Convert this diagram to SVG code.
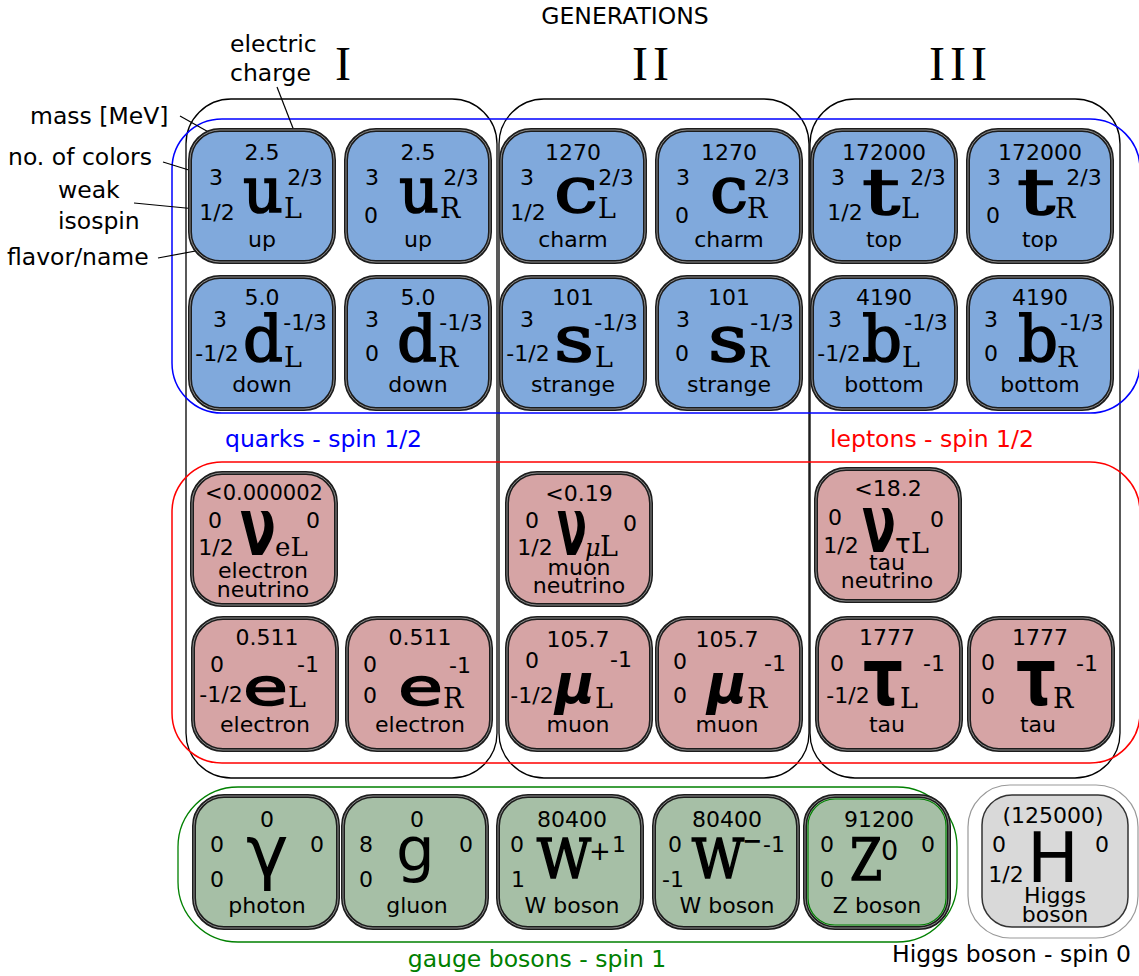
<svg xmlns="http://www.w3.org/2000/svg" width="1139" height="976" viewBox="0 0 1139 976">
<style>
text{font-family:"DejaVu Sans",sans-serif;fill:#000}
.m{text-anchor:middle}
.n{font-size:22px}
.a{font-size:23.5px}
.rom{font-family:"Liberation Serif",serif;font-size:48px;letter-spacing:5px}
.bq{font-family:"DejaVu Serif",serif;font-size:64px;stroke:#000;stroke-width:1.6}
.sub{font-family:"DejaVu Serif",serif;font-size:27px}
.sg{font-weight:bold}
.gen{fill:none;stroke:#000;stroke-width:1.3}
.cb{stroke:#1c1c1c;stroke-width:4}
.ci{fill:none;stroke:#8c8c8c;stroke-width:1}
.q{fill:#80a9dc}
.l{fill:#d6a4a5}
.b{fill:#a6bfa6}
.h{fill:#d9d9d9}
.ln{stroke:#000;stroke-width:1.2;fill:none}
</style>

<g id="headings">
<text class="a m" x="625" y="24">GENERATIONS</text>
<text class="rom" x="335" y="80">I</text>
<text class="rom" x="632" y="80">II</text>
<text class="rom" x="929" y="80">III</text>
</g>

<g id="frames">
<rect class="gen" x="186" y="99" width="311" height="679" rx="45"/>
<rect class="gen" x="499" y="99" width="310" height="679" rx="45"/>
<rect class="gen" x="810" y="99" width="310" height="679" rx="45"/>
<rect x="172" y="119" width="968" height="294" rx="50" fill="none" stroke="#0000ff" stroke-width="1.5"/>
<rect x="172" y="462" width="968" height="301" rx="50" fill="none" stroke="#ff0000" stroke-width="1.5"/>
<rect x="178" y="787" width="779" height="155" rx="60" fill="none" stroke="#008000" stroke-width="1.3"/>
<rect x="968" y="785" width="170" height="153" rx="42" fill="none" stroke="#999" stroke-width="1.2"/>
</g>

<g id="connectors">
<line class="ln" x1="180" y1="116" x2="237" y2="148"/>
<line class="ln" x1="163" y1="162" x2="205" y2="175"/>
<line class="ln" x1="134" y1="203" x2="196" y2="209"/>
<line class="ln" x1="158" y1="258" x2="233" y2="244"/>
<line class="ln" x1="277" y1="87" x2="305" y2="159"/>
</g>

<g id="annotations">
<text class="a" x="230" y="52">electric</text>
<text class="a" x="230" y="81">charge</text>
<text class="a" x="30" y="124">mass [MeV]</text>
<text class="a" x="8" y="165">no. of colors</text>
<text class="a" x="58" y="198">weak</text>
<text class="a" x="58" y="229">isospin</text>
<text class="a" x="7" y="265">flavor/name</text>
<text class="a" x="225" y="447" style="fill:#0000ff">quarks - spin 1/2</text>
<text class="a" x="830" y="447" style="fill:#ff0000">leptons - spin 1/2</text>
<text class="a m" x="537" y="967" style="fill:#008000">gauge bosons - spin 1</text>
<text class="a" x="892" y="962">Higgs boson - spin 0</text>
</g>

<!-- Quarks row 1 -->
<g id="uL">
<rect class="q cb" x="190" y="130" width="144" height="132" rx="30"/><rect class="ci" x="190" y="130" width="144" height="132" rx="30"/>
<text class="n m" x="262" y="160">2.5</text><text class="n m" x="216" y="185">3</text><text class="n m" x="305" y="185">2/3</text><text class="n m" x="217" y="220">1/2</text>
<text class="bq" x="243" y="212" textLength="40" lengthAdjust="spacingAndGlyphs">u</text><text class="sub" x="284" y="218">L</text><text class="n m" x="262" y="247">up</text>
</g>
<g id="uR">
<rect class="q cb" x="346" y="130" width="144" height="132" rx="30"/><rect class="ci" x="346" y="130" width="144" height="132" rx="30"/>
<text class="n m" x="418" y="160">2.5</text><text class="n m" x="372" y="185">3</text><text class="n m" x="461" y="185">2/3</text><text class="n m" x="371" y="223">0</text>
<text class="bq" x="399" y="212" textLength="40" lengthAdjust="spacingAndGlyphs">u</text><text class="sub" x="440" y="218">R</text><text class="n m" x="418" y="247">up</text>
</g>
<g id="cL">
<rect class="q cb" x="501" y="130" width="144" height="132" rx="30"/><rect class="ci" x="501" y="130" width="144" height="132" rx="30"/>
<text class="n m" x="573" y="160">1270</text><text class="n m" x="527" y="185">3</text><text class="n m" x="616" y="185">2/3</text><text class="n m" x="528" y="220">1/2</text>
<text class="bq" x="554" y="212" textLength="44" lengthAdjust="spacingAndGlyphs">c</text><text class="sub" x="598" y="218">L</text><text class="n m" x="573" y="247">charm</text>
</g>
<g id="cR">
<rect class="q cb" x="657" y="130" width="144" height="132" rx="30"/><rect class="ci" x="657" y="130" width="144" height="132" rx="30"/>
<text class="n m" x="729" y="160">1270</text><text class="n m" x="683" y="185">3</text><text class="n m" x="772" y="185">2/3</text><text class="n m" x="682" y="223">0</text>
<text class="bq" x="710" y="212" textLength="38" lengthAdjust="spacingAndGlyphs">c</text><text class="sub" x="747" y="218">R</text><text class="n m" x="729" y="247">charm</text>
</g>
<g id="tL">
<rect class="q cb" x="812" y="130" width="144" height="132" rx="30"/><rect class="ci" x="812" y="130" width="144" height="132" rx="30"/>
<text class="n m" x="884" y="160">172000</text><text class="n m" x="838" y="185">3</text><text class="n m" x="928" y="185">2/3</text><text class="n m" x="845" y="220">1/2</text>
<text class="bq" x="862" y="214" textLength="38" lengthAdjust="spacingAndGlyphs">t</text><text class="sub" x="901" y="218">L</text><text class="n m" x="884" y="247">top</text>
</g>
<g id="tR">
<rect class="q cb" x="968" y="130" width="144" height="132" rx="30"/><rect class="ci" x="968" y="130" width="144" height="132" rx="30"/>
<text class="n m" x="1040" y="160">172000</text><text class="n m" x="994" y="185">3</text><text class="n m" x="1084" y="185">2/3</text><text class="n m" x="993" y="223">0</text>
<text class="bq" x="1017" y="214" textLength="38" lengthAdjust="spacingAndGlyphs">t</text><text class="sub" x="1055" y="218">R</text><text class="n m" x="1040" y="247">top</text>
</g>

<!-- Quarks row 2 -->
<g id="dL">
<rect class="q cb" x="190" y="277" width="144" height="132" rx="30"/><rect class="ci" x="190" y="277" width="144" height="132" rx="30"/>
<text class="n m" x="262" y="305">5.0</text><text class="n m" x="220" y="327">3</text><text class="n m" x="305" y="330">-1/3</text><text class="n m" x="217" y="361">-1/2</text>
<text class="bq" x="243" y="361" textLength="40" lengthAdjust="spacingAndGlyphs">d</text><text class="sub" x="284" y="367">L</text><text class="n m" x="262" y="392">down</text>
</g>
<g id="dR">
<rect class="q cb" x="346" y="277" width="144" height="132" rx="30"/><rect class="ci" x="346" y="277" width="144" height="132" rx="30"/>
<text class="n m" x="418" y="305">5.0</text><text class="n m" x="372" y="327">3</text><text class="n m" x="461" y="330">-1/3</text><text class="n m" x="372" y="361">0</text>
<text class="bq" x="397" y="361" textLength="40" lengthAdjust="spacingAndGlyphs">d</text><text class="sub" x="438" y="367">R</text><text class="n m" x="418" y="392">down</text>
</g>
<g id="sL">
<rect class="q cb" x="501" y="277" width="144" height="132" rx="30"/><rect class="ci" x="501" y="277" width="144" height="132" rx="30"/>
<text class="n m" x="573" y="305">101</text><text class="n m" x="527" y="327">3</text><text class="n m" x="616" y="330">-1/3</text><text class="n m" x="528" y="361">-1/2</text>
<text class="bq" x="554" y="361" textLength="40" lengthAdjust="spacingAndGlyphs">s</text><text class="sub" x="595" y="367">L</text><text class="n m" x="573" y="392">strange</text>
</g>
<g id="sR">
<rect class="q cb" x="657" y="277" width="144" height="132" rx="30"/><rect class="ci" x="657" y="277" width="144" height="132" rx="30"/>
<text class="n m" x="729" y="305">101</text><text class="n m" x="683" y="327">3</text><text class="n m" x="772" y="330">-1/3</text><text class="n m" x="682" y="361">0</text>
<text class="bq" x="708" y="361" textLength="40" lengthAdjust="spacingAndGlyphs">s</text><text class="sub" x="749" y="367">R</text><text class="n m" x="729" y="392">strange</text>
</g>
<g id="bL">
<rect class="q cb" x="812" y="277" width="144" height="132" rx="30"/><rect class="ci" x="812" y="277" width="144" height="132" rx="30"/>
<text class="n m" x="884" y="305">4190</text><text class="n m" x="835" y="327">3</text><text class="n m" x="926" y="330">-1/3</text><text class="n m" x="839" y="361">-1/2</text>
<text class="bq" x="862" y="361" textLength="40" lengthAdjust="spacingAndGlyphs">b</text><text class="sub" x="902" y="367">L</text><text class="n m" x="884" y="392">bottom</text>
</g>
<g id="bR">
<rect class="q cb" x="968" y="277" width="144" height="132" rx="30"/><rect class="ci" x="968" y="277" width="144" height="132" rx="30"/>
<text class="n m" x="1040" y="305">4190</text><text class="n m" x="991" y="327">3</text><text class="n m" x="1082" y="330">-1/3</text><text class="n m" x="991" y="361">0</text>
<text class="bq" x="1018" y="361" textLength="40" lengthAdjust="spacingAndGlyphs">b</text><text class="sub" x="1057" y="367">R</text><text class="n m" x="1040" y="392">bottom</text>
</g>

<!-- Leptons: neutrinos -->
<g id="nue">
<rect class="l cb" x="192" y="473" width="144" height="132" rx="30"/><rect class="ci" x="192" y="473" width="144" height="132" rx="30"/>
<text class="m" x="264" y="500" font-size="21">&lt;0.000002</text><text class="n m" x="215" y="528">0</text><text class="n m" x="313" y="528">0</text><text class="n m" x="216" y="555">1/2</text>
<text class="sg" x="240" y="555" font-size="80" textLength="36" lengthAdjust="spacingAndGlyphs">ν</text>
<text class="sub" x="275" y="556" style="font-size:26px">eL</text>
<text class="n m" x="263" y="578">electron</text><text class="n m" x="263" y="597">neutrino</text>
</g>
<g id="numu">
<rect class="l cb" x="507" y="473" width="144" height="132" rx="30"/><rect class="ci" x="507" y="473" width="144" height="132" rx="30"/>
<text class="n m" x="579" y="501">&lt;0.19</text><text class="n m" x="532" y="528">0</text><text class="n m" x="630" y="531">0</text><text class="n m" x="535" y="555">1/2</text>
<text class="sg" x="557" y="555" font-size="80" textLength="30" lengthAdjust="spacingAndGlyphs">ν</text>
<text x="585" y="556" font-size="24" font-style="italic" style="font-family:'DejaVu Serif',serif">μ</text><text class="sub" x="600" y="556">L</text>
<text class="n m" x="579" y="575">muon</text><text class="n m" x="579" y="593">neutrino</text>
</g>
<g id="nutau">
<rect class="l cb" x="816" y="469" width="144" height="132" rx="30"/><rect class="ci" x="816" y="469" width="144" height="132" rx="30"/>
<text class="n m" x="888" y="496">&lt;18.2</text><text class="n m" x="835" y="525">0</text><text class="n m" x="937" y="527">0</text><text class="n m" x="841" y="553">1/2</text>
<text class="sg" x="862" y="552" font-size="80" textLength="34" lengthAdjust="spacingAndGlyphs">ν</text>
<text x="895" y="553" font-size="26">τ</text><text class="sub" x="911" y="553">L</text>
<text class="n m" x="887" y="570">tau</text><text class="n m" x="887" y="588">neutrino</text>
</g>

<!-- Leptons: charged -->
<g id="eL">
<rect class="l cb" x="193" y="618" width="144" height="132" rx="30"/><rect class="ci" x="193" y="618" width="144" height="132" rx="30"/>
<text class="n m" x="267" y="645">0.511</text><text class="n m" x="217" y="672">0</text><text class="n m" x="308" y="672">-1</text><text class="n m" x="221" y="702">-1/2</text>
<text x="243" y="705" font-size="52" stroke="#000" stroke-width="1.5" textLength="45" lengthAdjust="spacingAndGlyphs">e</text><text class="sub" x="288" y="707">L</text>
<text class="n m" x="265" y="732">electron</text>
</g>
<g id="eR">
<rect class="l cb" x="347" y="618" width="144" height="132" rx="30"/><rect class="ci" x="347" y="618" width="144" height="132" rx="30"/>
<text class="n m" x="420" y="645">0.511</text><text class="n m" x="370" y="672">0</text><text class="n m" x="460" y="673">-1</text><text class="n m" x="370" y="703">0</text>
<text x="398" y="705" font-size="52" stroke="#000" stroke-width="1.5" textLength="45" lengthAdjust="spacingAndGlyphs">e</text><text class="sub" x="443" y="708">R</text>
<text class="n m" x="420" y="732">electron</text>
</g>
<g id="muL">
<rect class="l cb" x="507" y="618" width="144" height="132" rx="30"/><rect class="ci" x="507" y="618" width="144" height="132" rx="30"/>
<text class="n m" x="578" y="647">105.7</text><text class="n m" x="532" y="668">0</text><text class="n m" x="621" y="667">-1</text><text class="n m" x="532" y="703">-1/2</text>
<text class="sg" x="555" y="703" font-size="56" font-style="italic" textLength="40" lengthAdjust="spacingAndGlyphs">μ</text><text class="sub" x="595" y="708">L</text>
<text class="n m" x="578" y="732">muon</text>
</g>
<g id="muR">
<rect class="l cb" x="657" y="618" width="144" height="132" rx="30"/><rect class="ci" x="657" y="618" width="144" height="132" rx="30"/>
<text class="n m" x="727" y="647">105.7</text><text class="n m" x="680" y="669">0</text><text class="n m" x="775" y="671">-1</text><text class="n m" x="680" y="703">0</text>
<text class="sg" x="707" y="703" font-size="56" font-style="italic" textLength="40" lengthAdjust="spacingAndGlyphs">μ</text><text class="sub" x="747" y="708">R</text>
<text class="n m" x="727" y="732">muon</text>
</g>
<g id="tauL">
<rect class="l cb" x="817" y="618" width="144" height="132" rx="30"/><rect class="ci" x="817" y="618" width="144" height="132" rx="30"/>
<text class="n m" x="887" y="645">1777</text><text class="n m" x="837" y="671">0</text><text class="n m" x="934" y="671">-1</text><text class="n m" x="848" y="703">-1/2</text>
<text class="sg" x="863" y="705" font-size="80" textLength="40" lengthAdjust="spacingAndGlyphs">τ</text><text class="sub" x="900" y="708">L</text>
<text class="n m" x="887" y="732">tau</text>
</g>
<g id="tauR">
<rect class="l cb" x="969" y="618" width="144" height="132" rx="30"/><rect class="ci" x="969" y="618" width="144" height="132" rx="30"/>
<text class="n m" x="1040" y="645">1777</text><text class="n m" x="988" y="670">0</text><text class="n m" x="1087" y="671">-1</text><text class="n m" x="988" y="704">0</text>
<text class="sg" x="1016" y="705" font-size="80" textLength="40" lengthAdjust="spacingAndGlyphs">τ</text><text class="sub" x="1053" y="708">R</text>
<text class="n m" x="1038" y="732">tau</text>
</g>

<!-- Gauge bosons -->
<g id="photon">
<rect class="b cb" x="194" y="796" width="144" height="132" rx="30"/><rect class="ci" x="194" y="796" width="144" height="132" rx="30"/>
<text class="n m" x="267" y="827">0</text><text class="n m" x="217" y="852">0</text><text class="n m" x="317" y="852">0</text><text class="n m" x="217" y="887">0</text>
<text x="246" y="876" font-size="72">γ</text>
<text class="n m" x="267" y="913">photon</text>
</g>
<g id="gluon">
<rect class="b cb" x="343" y="796" width="144" height="132" rx="30"/><rect class="ci" x="343" y="796" width="144" height="132" rx="30"/>
<text class="n m" x="417" y="827">0</text><text class="n m" x="366" y="852">8</text><text class="n m" x="466" y="852">0</text><text class="n m" x="366" y="887">0</text>
<text x="396" y="870" font-size="61">g</text>
<text class="n m" x="417" y="913">gluon</text>
</g>
<g id="Wplus">
<rect class="b cb" x="498" y="796" width="144" height="132" rx="30"/><rect class="ci" x="498" y="796" width="144" height="132" rx="30"/>
<text class="n m" x="572" y="827">80400</text><text class="n m" x="517" y="852">0</text><text class="n m" x="619" y="852">1</text><text class="n m" x="518" y="887">1</text>
<text class="bq" x="537" y="878" style="font-size:55px" textLength="54" lengthAdjust="spacingAndGlyphs">W</text><text x="589" y="860" font-size="26">+</text>
<text class="n m" x="572" y="913">W boson</text>
</g>
<g id="Wminus">
<rect class="b cb" x="654" y="796" width="144" height="132" rx="30"/><rect class="ci" x="654" y="796" width="144" height="132" rx="30"/>
<text class="n m" x="727" y="827">80400</text><text class="n m" x="675" y="852">0</text><text class="n m" x="774" y="852">-1</text><text class="n m" x="673" y="887">-1</text>
<text class="bq" x="692" y="878" style="font-size:55px" textLength="52" lengthAdjust="spacingAndGlyphs">W</text><text class="sg" x="742" y="849" font-size="24">−</text>
<text class="n m" x="727" y="913">W boson</text>
</g>
<g id="Z">
<rect class="b cb" x="805" y="796" width="144" height="132" rx="30"/><rect class="ci" x="805" y="796" width="144" height="132" rx="30"/>
<rect x="808" y="799" width="138" height="126" rx="27" fill="none" stroke="#008000" stroke-width="1.2"/>
<text class="n m" x="879" y="827">91200</text><text class="n m" x="827" y="852">0</text><text class="n m" x="928" y="852">0</text><text class="n m" x="827" y="887">0</text>
<text class="bq" x="850" y="880" style="font-size:58px" textLength="32" lengthAdjust="spacingAndGlyphs">Z</text><text x="881" y="860" font-size="27">0</text>
<text class="n m" x="877" y="913">Z boson</text>
</g>

<!-- Higgs -->
<g id="Higgs">
<rect class="h" x="982" y="795" width="146" height="132" rx="30" stroke="#333" stroke-width="1.5"/>
<text class="n m" x="1053" y="823">(125000)</text><text class="n m" x="999" y="852">0</text><text class="n m" x="1102" y="852">0</text><text class="n m" x="1006" y="882">1/2</text>
<text x="1027" y="882" font-size="69">H</text>
<text class="n m" x="1055" y="903">Higgs</text><text class="n m" x="1055" y="922">boson</text>
</g>
</svg>
